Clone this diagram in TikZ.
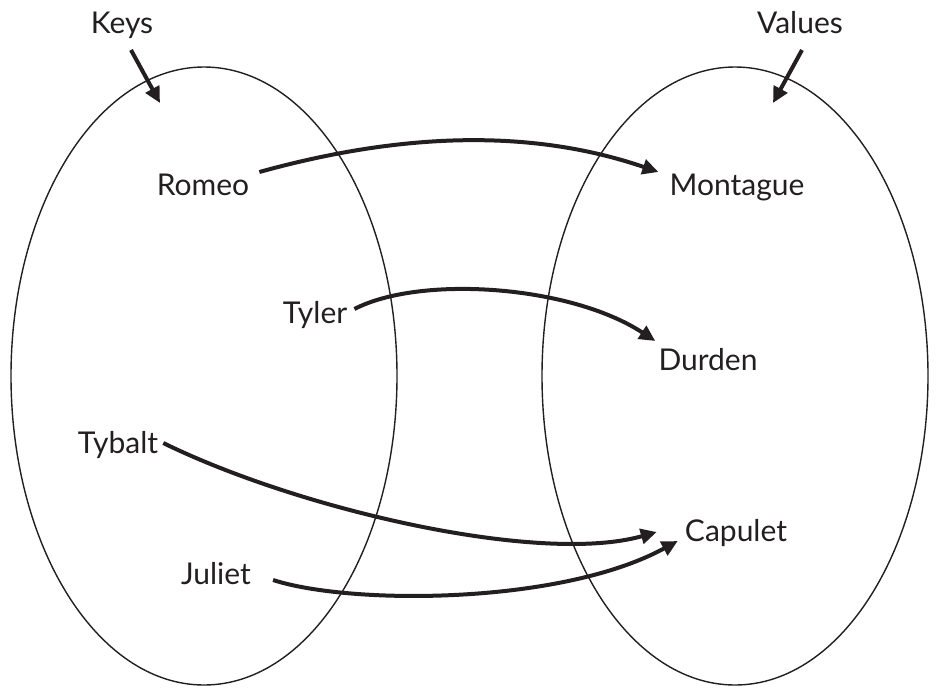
\documentclass[tikz,border=0pt]{standalone}
\usepackage{fontspec}
\setmainfont{Lato}
\usetikzlibrary{arrows.meta}
\definecolor{ink}{HTML}{231F20}
\tikzset{
  lbl/.style={anchor=base, inner sep=0pt, text=ink, font=\fontsize{30pt}{32pt}\selectfont},
  setline/.style={draw=ink, line width=1.4pt},
  maparrow/.style={draw=ink, line width=4pt, -{Triangle[length=16pt,width=15pt]}},
}
\begin{document}
\begin{tikzpicture}[x=1pt,y=-1pt]
\useasboundingbox (0,0) rectangle (937,691);
% sets
\draw[setline] (204,376) ellipse [x radius=193pt, y radius=309pt];
\draw[setline] (735,376) ellipse [x radius=193pt, y radius=309pt];
% labels
\node[lbl] (keys) at (122,33) {Keys};
\node[lbl] (values) at (800,33) {Values};
\node[lbl] (romeo) at (203,195) {Romeo};
\node[lbl] (tyler) at (315,323) {Tyler};
\node[lbl] (tybalt) at (118,453) {Tybalt};
\node[lbl] (juliet) at (216,584) {Juliet};
\node[lbl] (montague) at (737,195) {Montague};
\node[lbl] (durden) at (708,370) {Durden};
\node[lbl] (capulet) at (736,541) {Capulet};
% set pointers
\coordinate (kt) at (160,103);
\coordinate (vt) at (773,103);
\draw[maparrow] ([shift={(9,17)}]keys.base) -- (kt);
\draw[maparrow] ([shift={(2,17)}]values.base) -- (vt);
% mappings
\draw[maparrow] ([shift={(10,-23)}]romeo.base east) .. controls (400,133) and (530,128) .. ([shift={(-11,-23)}]montague.base west);
\draw[maparrow] ([shift={(7,-14)}]tyler.base east) .. controls (420,275) and (570,285) .. ([shift={(-3,-29)}]durden.base west);
\draw[maparrow] ([shift={(5,-10)}]tybalt.base east) .. controls (300,510) and (540,565) .. ([shift={(-28,-9)}]capulet.base west);
\draw[maparrow] ([shift={(22,-4)}]juliet.base east) .. controls (350,605) and (560,605) .. ([shift={(-7,0)}]capulet.base west);
\end{tikzpicture}
\end{document}
